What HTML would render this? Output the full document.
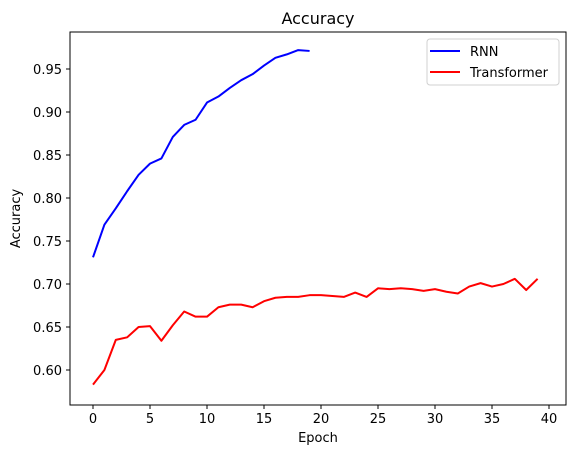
<!DOCTYPE html>
<html><head><meta charset="utf-8"><style>
body{margin:0;background:#fff;font-family:"Liberation Sans","DejaVu Sans",sans-serif;}
svg text{font-family:"DejaVu Sans","Liberation Sans",sans-serif;font-size:13px;fill:#000;}
</style></head><body>
<svg id="c" width="576" height="455"></svg>
<script>
const epochsRnn=[0,1,2,3,4,5,6,7,8,9,10,11,12,13,14,15,16,17,18,19];
const rnnAcc=[0.731,0.769,0.788,0.808,0.827,0.840,0.846,0.871,0.885,0.891,0.911,0.918,0.928,0.937,0.944,0.954,0.963,0.967,0.972,0.971];
const epochsTr=[0,1,2,3,4,5,6,7,8,9,10,11,12,13,14,15,16,17,18,19,20,21,22,23,24,25,26,27,28,29,30,31,32,33,34,35,36,37,38,39];
const trAcc=[0.583,0.600,0.635,0.638,0.650,0.651,0.634,0.652,0.668,0.662,0.662,0.673,0.676,0.676,0.673,0.680,0.684,0.685,0.685,0.687,0.687,0.686,0.685,0.690,0.685,0.695,0.694,0.695,0.694,0.692,0.694,0.691,0.689,0.697,0.701,0.697,0.700,0.706,0.693,0.706];
const xTicks=[0,5,10,15,20,25,30,35,40];
const yTicks=[0.60,0.65,0.70,0.75,0.80,0.85,0.90,0.95];
const NS="http://www.w3.org/2000/svg";
const svg=document.getElementById('c');
const L=70,R=566,T=32,B=405;
function xs(v){return 93+v*(549-93)/40;}
function ys(v){return 370-(v-0.60)*(370-69)/0.35;}
function mk(tag,attrs,parent){const e=document.createElementNS(NS,tag);for(const k in attrs)e.setAttribute(k,attrs[k]);(parent||svg).appendChild(e);return e;}
const frame=mk('rect',{x:L,y:T,width:R-L,height:B-T,fill:'none',stroke:'#000','stroke-width':1});


xTicks.forEach(t=>{
  const g=mk('g',{});
  
  
  mk('line',{x1:xs(t),x2:xs(t),y1:B,y2:B+4,stroke:'#000','stroke-width':1},g);
  const tx=mk('text',{x:xs(t),y:B+18,'text-anchor':'middle'},g);tx.textContent=t;
});
yTicks.forEach(t=>{
  const g=mk('g',{});
  
  
  mk('line',{x1:L-4,x2:L,y1:ys(t),y2:ys(t),stroke:'#000','stroke-width':1},g);
  const tx=mk('text',{x:L-8,y:ys(t)+5,'text-anchor':'end'},g);tx.textContent=t.toFixed(2);
});
function line(xsArr,vals,color,name){
  const p=mk('polyline',{points:xsArr.map((e,i)=>xs(e)+','+ys(vals[i])).join(' '),fill:'none',stroke:color,'stroke-width':2,'stroke-linejoin':'round'});
  
  
}
line(epochsRnn,rnnAcc,'#0000ff','rnn-line');
line(epochsTr,trAcc,'#ff0000','transformer-line');
const title=mk('text',{x:(L+R)/2,y:24,'text-anchor':'middle'});
title.style.fontSize='16px';title.textContent='Accuracy';


const xl=mk('text',{x:(L+R)/2,y:442,'text-anchor':'middle'});xl.textContent='Epoch';


const yl=mk('text',{x:0,y:0,'text-anchor':'middle',transform:'translate(20,'+((T+B)/2)+') rotate(-90)'});yl.textContent='Accuracy';


const lg=mk('g',{});


mk('rect',{x:427,y:39,width:132,height:46,rx:3,fill:'#fff',stroke:'#d0d0d0','stroke-width':1},lg);
[['RNN','#0000ff',51],['Transformer','#ff0000',72]].forEach(([n,c,y])=>{
  const e=mk('g',{},lg);
  
  
  mk('line',{x1:430,x2:460,y1:y,y2:y,stroke:c,'stroke-width':2},e);
  const t=mk('text',{x:470,y:y+5},e);t.textContent=n;
});
</script>
</body></html>
